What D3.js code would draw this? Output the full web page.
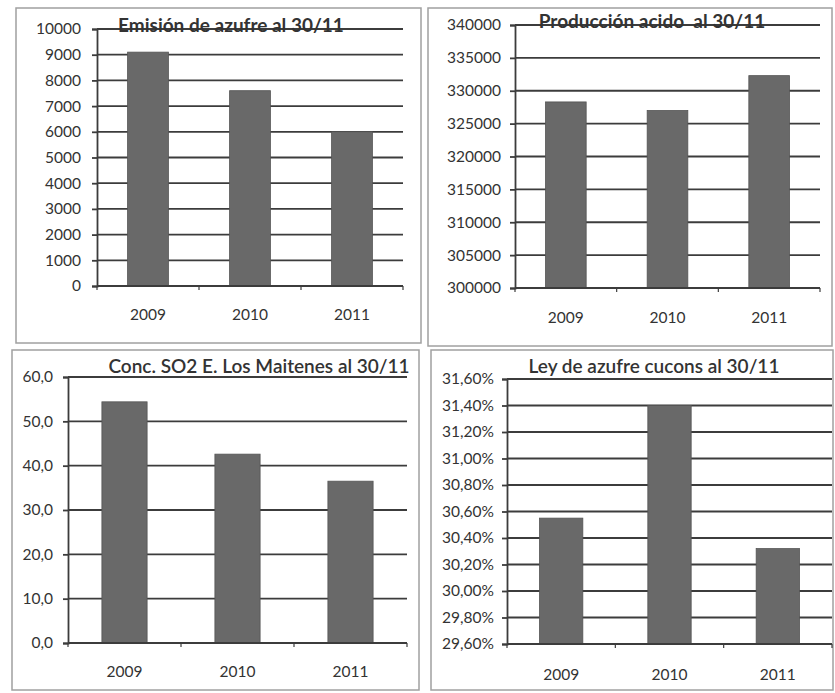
<!DOCTYPE html>
<html>
<head>
<meta charset="utf-8">
<script src="https://cdn.jsdelivr.net/npm/d3@7"></script>
<style>
  html, body { margin: 0; padding: 0; background: #ffffff; }
  svg { display: block; }
  text { font-family: Lato, "Open Sans", sans-serif; fill: #333; }
</style>
</head>
<body>
<svg id="chart" width="835" height="693"></svg>
<script>
// ---------- DATA ----------
const years = ["2009", "2010", "2011"];

const emisionTitle = "Emisión de azufre al 30/11";
const emisionValues = [9100, 7600, 6000];
const emisionTicks = [0, 1000, 2000, 3000, 4000, 5000, 6000, 7000, 8000, 9000, 10000];

const produccionTitle = "Producción acido  al 30/11";
const produccionValues = [328300, 327000, 332300];
const produccionTicks = [300000, 305000, 310000, 315000, 320000, 325000, 330000, 335000, 340000];

const concTitle = "Conc. SO2 E. Los Maitenes al 30/11";
const concValues = [54.4, 42.6, 36.5];
const concTicks = [0, 10, 20, 30, 40, 50, 60];

const leyTitle = "Ley de azufre cucons al 30/11";
const leyValues = [30.55, 31.40, 30.32];
const leyTicks = [29.6, 29.8, 30.0, 30.2, 30.4, 30.6, 30.8, 31.0, 31.2, 31.4, 31.6];

// ---------- LAYOUT ----------
const svg = d3.select("#chart");
const GRID = "#3c3c3c", BAR = "#696969", FRAME = "#a0a0a0";

const fmtInt = d => String(d);
const fmtComma1 = d => d.toFixed(1).replace(".", ",");
const fmtPct = d => d.toFixed(2).replace(".", ",") + "%";

const panels = [
  { frame: [16, 8, 421, 343], x0: 97, x1: 403, yTop: 29, yBot: 286,
    values: emisionValues, ticks: emisionTicks, fmt: fmtInt, title: emisionTitle,
    titleX: 231, titleY: 32, titleWeight: 700, labelRight: 81, yearY: 320 },
  { frame: [428, 8, 832, 346], x0: 515, x1: 820, yTop: 25, yBot: 288,
    values: produccionValues, ticks: produccionTicks, fmt: fmtInt, title: produccionTitle,
    titleX: 652, titleY: 28, titleWeight: 700, labelRight: 501, yearY: 323 },
  { frame: [12, 350, 419, 690], x0: 68, x1: 407, yTop: 377, yBot: 643,
    values: concValues, ticks: concTicks, fmt: fmtComma1, title: concTitle,
    titleX: 259, titleY: 373, titleWeight: 600, labelRight: 53, yearY: 677 },
  { frame: [431, 350, 833, 690], x0: 507, x1: 832, yTop: 379, yBot: 644,
    values: leyValues, ticks: leyTicks, fmt: fmtPct, title: leyTitle,
    titleX: 654, titleY: 373, titleWeight: 600, labelRight: 494, yearY: 680 }
];

panels.forEach(p => {
  const g = svg.append("g");
  const [fx0, fy0, fx1, fy1] = p.frame;
  g.append("rect")
    .attr("x", fx0).attr("y", fy0)
    .attr("width", fx1 - fx0).attr("height", fy1 - fy0)
    .attr("fill", "#fff").attr("stroke", FRAME).attr("stroke-width", 1.5);

  const x = d3.scaleBand().domain(years).range([p.x0, p.x1])
    .paddingInner(0.6).paddingOuter(0.3);
  const y = d3.scaleLinear()
    .domain([p.ticks[0], p.ticks[p.ticks.length - 1]])
    .range([p.yBot, p.yTop]);

  // gridlines
  g.append("g").selectAll("line").data(p.ticks.slice(1)).join("line")
    .attr("x1", p.x0).attr("x2", p.x1)
    .attr("y1", d => y(d)).attr("y2", d => y(d))
    .attr("stroke", GRID).attr("stroke-width", 1.8);

  // bars
  g.append("g").selectAll("rect").data(p.values).join("rect")
    .attr("x", (d, i) => x(years[i]))
    .attr("width", x.bandwidth())
    .attr("y", d => y(d))
    .attr("height", d => p.yBot - y(d))
    .attr("fill", BAR).attr("stroke", "#555").attr("stroke-width", 0.8);

  // y axis
  const yAxis = d3.axisLeft(y).tickValues(p.ticks).tickFormat(p.fmt)
    .tickSize(5).tickPadding(p.x0 - 5 - p.labelRight);
  const ya = g.append("g").attr("transform", `translate(${p.x0},0)`).call(yAxis);
  ya.select(".domain").attr("stroke", GRID).attr("stroke-width", 1.8);
  ya.selectAll(".tick line").attr("stroke", GRID).attr("stroke-width", 1.8);
  ya.selectAll(".tick text")
    .style("font-family", "Lato, sans-serif").style("font-size", "15.5px")
    .attr("fill", "#444");

  // x axis baseline + boundary ticks
  g.append("line").attr("x1", p.x0).attr("x2", p.x1)
    .attr("y1", p.yBot).attr("y2", p.yBot)
    .attr("stroke", GRID).attr("stroke-width", 1.8);
  const step = x.step();
  g.append("g").selectAll("line").data(d3.range(years.length + 1)).join("line")
    .attr("x1", i => p.x0 + i * step).attr("x2", i => p.x0 + i * step)
    .attr("y1", p.yBot).attr("y2", p.yBot + 4)
    .attr("stroke", GRID).attr("stroke-width", 1.2);

  // year labels
  g.append("g").selectAll("text").data(years).join("text")
    .attr("x", d => x(d) + x.bandwidth() / 2)
    .attr("y", p.yearY)
    .attr("text-anchor", "middle")
    .style("font-size", "15.5px").attr("fill", "#444")
    .text(d => d);

  // title
  g.append("text")
    .attr("x", p.titleX).attr("y", p.titleY)
    .attr("text-anchor", "middle")
    .style("font-size", "19px").style("font-weight", p.titleWeight)
    .style("white-space", "pre")
    .attr("fill", "#222")
    .text(p.title);
});
</script>
</body>
</html>
